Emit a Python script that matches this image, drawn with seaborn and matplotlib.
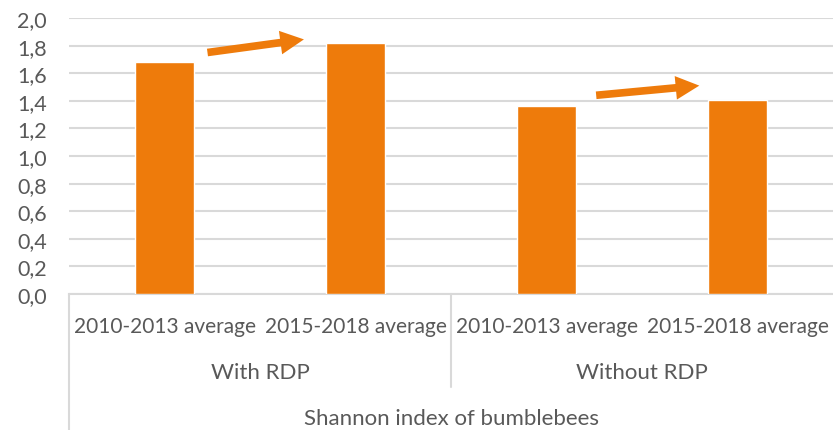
import pandas as pd
import seaborn as sns
import matplotlib.pyplot as plt
from matplotlib.ticker import FuncFormatter

sns.set_style('white')
plt.rcParams['font.family'] = ['Lato', 'DejaVu Sans']

groups = ['With RDP', 'With RDP', 'Without RDP', 'Without RDP']
periods = ['2010-2013 average', '2015-2018 average', '2010-2013 average', '2015-2018 average']
shannon = [1.68, 1.82, 1.365, 1.405]
axis_title = 'Shannon index of bumblebees'

# arrows: (x_start, y_start, x_end, y_end) in category/value units
arrows = [(0.225, 1.75, 0.73, 1.845), (2.26, 1.44, 2.80, 1.51)]

BAR = '#EE7B0B'
GRID = '#D9D9D9'
TXT = '#595959'
FS = 15

df = pd.DataFrame({'group': groups, 'period': periods, 'value': shannon})
df['key'] = df['group'] + ' | ' + df['period']

W, H = 833, 431
fig = plt.figure(figsize=(W / 100, H / 100), dpi=100)
ax = fig.add_axes([69 / W, 1 - 295 / H, (833 - 69) / W, 276 / H])

sns.barplot(data=df, x='key', y='value', color=BAR, width=0.31,
            saturation=1, ax=ax, zorder=3)

ax.set_ylim(0, 2.0)
ax.set_xlim(-0.5, len(df) - 0.5)
ax.set_yticks([i / 10 for i in range(0, 21, 2)])
ax.yaxis.set_major_formatter(FuncFormatter(lambda v, p: f'{v:.1f}'.replace('.', ',')))
ax.grid(axis='y', color=GRID, linewidth=1.5, zorder=0)
for s in ['top', 'right', 'left']:
    ax.spines[s].set_visible(False)
ax.spines['bottom'].set_color(GRID)
ax.spines['bottom'].set_linewidth(1.5)
ax.tick_params(axis='y', length=0, labelsize=FS + 0.5, labelcolor=TXT, pad=16)
ax.tick_params(axis='x', length=0, labelsize=FS, labelcolor=TXT, pad=16)
ax.set_xticks(range(len(df)))
ax.set_xticklabels(df['period'])
ax.set_xlabel('')
ax.set_ylabel('')

tr = ax.get_xaxis_transform()
# group labels
for g in dict.fromkeys(groups):
    idx = [i for i, gg in enumerate(groups) if gg == g]
    ax.text(sum(idx) / len(idx), -78 / 276, g, transform=tr, ha='center',
            va='center', fontsize=FS + 1, color=TXT)
ax.text(0.5, -124 / 276, axis_title, transform=ax.transAxes, ha='center',
        va='center', fontsize=FS + 1, color=TXT)

# separators of the category axis
ax.plot([-0.5, -0.5], [0, -136 / 276], transform=tr, color=GRID,
        linewidth=1.5, clip_on=False)
ax.plot([1.5, 1.5], [0, -93 / 276], transform=tr, color=GRID,
        linewidth=1.5, clip_on=False)

for x0, y0, x1, y1 in arrows:
    ax.annotate('', xy=(x1, y1), xytext=(x0, y0),
                arrowprops=dict(arrowstyle='simple,head_length=1.7,head_width=1.7,tail_width=0.55',
                                color=BAR, lw=0, shrinkA=0, shrinkB=0),
                zorder=4)

fig.savefig('out.png', dpi=100)
